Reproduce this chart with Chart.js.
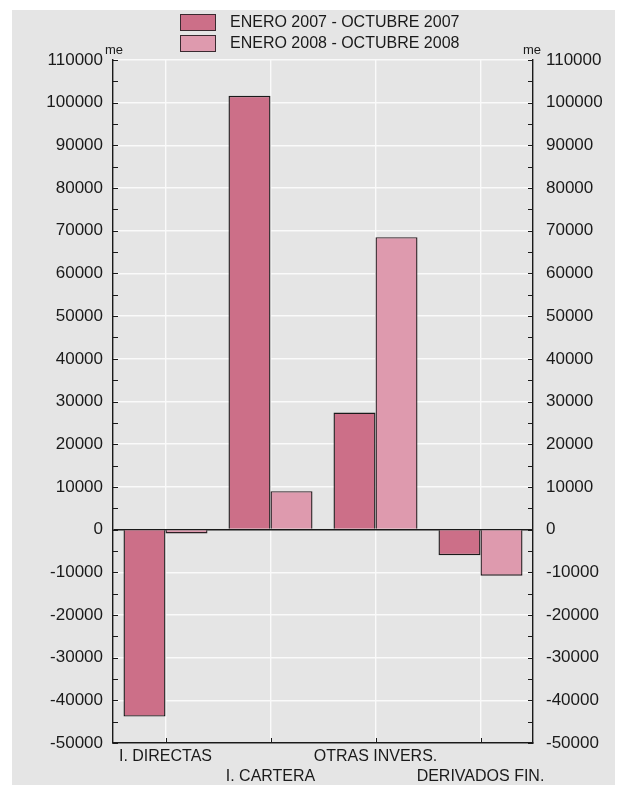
<!DOCTYPE html>
<html lang="es">
<head>
  <meta charset="UTF-8" />
  <title>Inversiones</title>
  <script src="https://cdn.jsdelivr.net/npm/chart.js"></script>
  <style>
    html, body { margin: 0; padding: 0; background: #fff; }
    #wrap { width: 627px; height: 797px; }
  </style>
</head>
<body>
  <div id="wrap"><canvas id="chart" width="627" height="797"></canvas></div>

  <script>
    // data
    const categories = ['I. DIRECTAS', 'I. CARTERA', 'OTRAS INVERS.', 'DERIVADOS FIN.'];
    const seriesLabels = ['ENERO 2007 - OCTUBRE 2007', 'ENERO 2008 - OCTUBRE 2008'];
    const values2007 = [-43800, 101600, 27400, -6000];
    const values2008 = [-900, 9000, 68500, -10800];
    const yMin = -50000;
    const yMax = 110000;
    const yStep = 10000;
    const unitLabel = 'me';

    const colors = ['#cc6f88', '#de9aae'];
    const ink = '#1a1a1a';

    Chart.defaults.font.family = '"Liberation Sans", Arial, sans-serif';
    Chart.defaults.font.size = 16;
    Chart.defaults.color = ink;

    // staggered category labels: every second one goes on the second line
    const xLabels = categories.map((c, i) => i % 2 ? ['', c] : c);

    const decor = {
      id: 'decor',
      beforeDraw(chart) {
        const c = chart.ctx;
        c.save();
        c.fillStyle = '#fff';
        c.fillRect(0, 0, chart.width, chart.height);
        c.fillStyle = '#e5e5e5';
        c.fillRect(12, 10, 603, 775);
        c.restore();
      },
      afterDraw(chart) {
        const c = chart.ctx, a = chart.chartArea;
        const y = chart.scales.y, x = chart.scales.x;
        c.save();
        c.strokeStyle = ink;
        c.lineWidth = 1;

        // minor ticks inside both value axes
        for (let v = yMin; v <= yMax; v += yStep / 2) {
          const py = Math.round(y.getPixelForValue(v)) + 0.5;
          c.beginPath();
          c.moveTo(a.left, py); c.lineTo(a.left + 5, py);
          c.moveTo(a.right, py); c.lineTo(a.right - 5, py);
          c.stroke();
        }
        // category ticks pointing up from the bottom axis
        x.ticks.forEach((t, i) => {
          const px = Math.round(x.getPixelForTick(i)) + 0.5;
          c.beginPath();
          c.moveTo(px, a.bottom); c.lineTo(px, a.bottom - 5);
          c.stroke();
        });

        // unit labels
        c.fillStyle = ink;
        c.font = '13px "Liberation Sans", Arial, sans-serif';
        c.textAlign = 'center';
        c.textBaseline = 'alphabetic';
        c.fillText(unitLabel, a.left + 1, a.top - 6);
        c.fillText(unitLabel, a.right - 1, a.top - 6);

        // legend, stacked
        c.font = '16px "Liberation Sans", Arial, sans-serif';
        c.textAlign = 'left';
        c.textBaseline = 'middle';
        chart.data.datasets.forEach((ds, i) => {
          const top = 14 + i * 21;
          c.fillStyle = ds.backgroundColor;
          c.fillRect(180, top, 36, 17);
          c.strokeStyle = '#3a2a30';
          c.strokeRect(180.5, top + 0.5, 35, 16);
          c.fillStyle = ink;
          c.fillText(ds.label, 230, top + 9);
        });
        c.restore();
      }
    };

    new Chart(document.getElementById('chart'), {
      type: 'bar',
      data: {
        labels: xLabels,
        datasets: [
          {
            label: seriesLabels[0],
            data: values2007,
            backgroundColor: colors[0],
            borderColor: ink,
            borderWidth: 1.4,
            categoryPercentage: 0.8,
            barPercentage: 1.0
          },
          {
            label: seriesLabels[1],
            data: values2008,
            backgroundColor: colors[1],
            borderColor: '#2a1e22',
            borderWidth: 1.4,
            categoryPercentage: 0.8,
            barPercentage: 1.0
          }
        ]
      },
      options: {
        responsive: false,
        animation: false,
        layout: { padding: { top: 60, left: 0, right: 0, bottom: 0 } },
        plugins: {
          legend: { display: false },
          tooltip: { enabled: false }
        },
        scales: {
          x: {
            offset: true,
            grid: { offset: false, color: '#fafafa', lineWidth: 1.4, drawTicks: false },
            border: { color: ink, width: 1.4 },
            ticks: {
              autoSkip: false, maxRotation: 0, minRotation: 0, padding: 4,
              font: { size: 16, lineHeight: 1.25 }
            },
            afterFit(s) { s.height = 54; }
          },
          y: {
            position: 'left',
            min: yMin,
            max: yMax,
            grid: {
              color: ctx => ctx.tick && ctx.tick.value === 0 ? ink : '#fafafa',
              lineWidth: 1.4,
              drawTicks: false
            },
            border: { color: ink, width: 1.4 },
            ticks: { stepSize: yStep, padding: 10, font: { size: 17 }, callback: v => String(v) },
            afterFit(s) { s.width = 113; }
          },
          y2: {
            position: 'right',
            min: yMin,
            max: yMax,
            grid: { display: false, drawTicks: false },
            border: { color: ink, width: 1.4 },
            ticks: { stepSize: yStep, padding: 13, font: { size: 17 }, callback: v => String(v) },
            afterFit(s) { s.width = 94; }
          }
        }
      },
      plugins: [decor]
    });
  </script>
</body>
</html>
